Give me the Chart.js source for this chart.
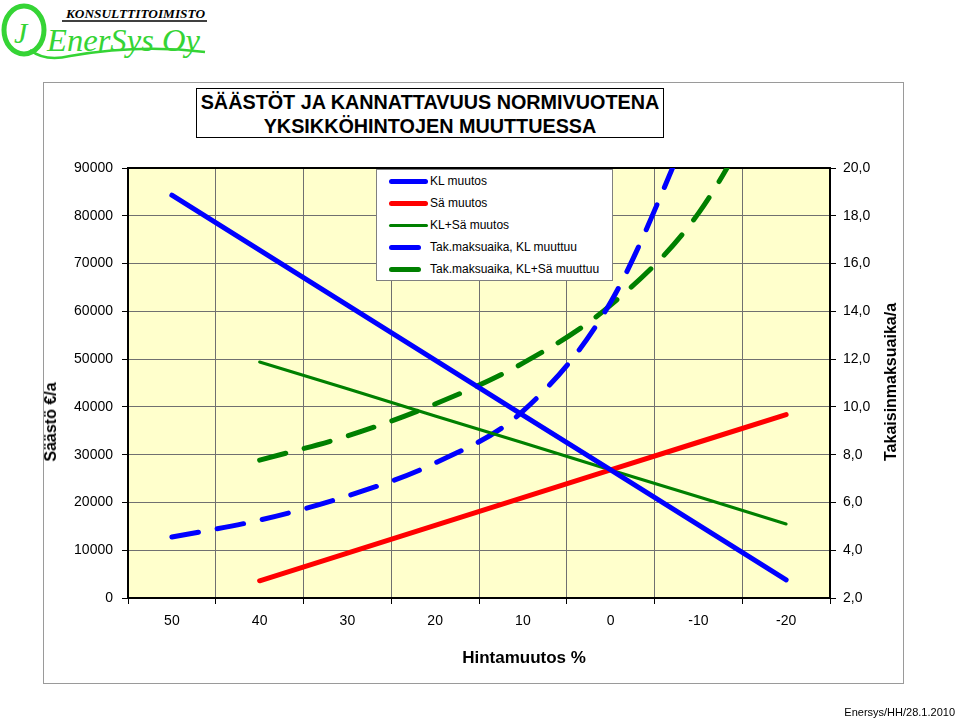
<!DOCTYPE html>
<html>
<head>
<meta charset="utf-8">
<script src="https://cdn.jsdelivr.net/npm/chart.js@4"></script>
<style>
  html,body{margin:0;padding:0;background:#fff;}
  body{width:960px;height:721px;position:relative;overflow:hidden;font-family:"Liberation Sans",Arial,sans-serif;}
  .abs{position:absolute;}
  #frame{left:43px;top:82px;width:859px;height:600px;border:1px solid #9a9a9a;}
  #titlebox{left:196px;top:88px;width:466px;height:47px;border:1.5px solid #000;background:#fff;text-align:center;font-weight:bold;font-size:19.8px;line-height:24px;padding-top:1px;}
  #legend{left:376px;top:169px;width:235px;height:110px;border:1px solid #808080;background:#fff;}
  .lrow{position:absolute;left:0;width:235px;height:22px;}
  .lsample{position:absolute;border-radius:3px;}
  .ltext{position:absolute;left:53px;font-size:12px;line-height:14px;white-space:nowrap;color:#000;}
  .vtitle{font-weight:bold;font-size:16px;white-space:nowrap;transform:translate(-50%,-50%) rotate(-90deg);}
  #xtitle{left:524px;top:658px;font-weight:bold;font-size:17px;white-space:nowrap;transform:translate(-50%,-50%);}
  #footer{right:5px;top:706px;font-size:11px;white-space:nowrap;}
</style>
</head>
<body>
<div id="frame" class="abs"></div>

<!-- logo -->
<svg class="abs" style="left:0;top:0" width="215" height="62">
  <ellipse cx="24" cy="30" rx="20" ry="24" fill="none" stroke="#35d435" stroke-width="5"/>
  <path d="M30 50 Q 45 62 70 56 Q 140 44 205 52" fill="none" stroke="#35d435" stroke-width="2.5"/>
  <text x="14" y="43" font-family="Liberation Serif" font-style="italic" font-size="30" fill="#35d435">J</text>
  <line x1="62" y1="21" x2="207" y2="21" stroke="#000" stroke-width="1.5"/>
  <text x="66" y="18" font-family="Liberation Serif" font-style="italic" font-weight="bold" font-size="13.5" textLength="139" lengthAdjust="spacingAndGlyphs" fill="#000">KONSULTTITOIMISTO</text>
  <text x="47" y="51" font-family="Liberation Serif" font-style="italic" font-size="32" textLength="153" lengthAdjust="spacingAndGlyphs" fill="#35d435">EnerSys Oy</text>
</svg>

<canvas id="c" class="abs" width="960" height="721" style="left:0;top:0"></canvas>

<div id="titlebox" class="abs">SÄÄSTÖT JA KANNATTAVUUS NORMIVUOTENA<br>YKSIKKÖHINTOJEN MUUTTUESSA</div>
<div id="legend" class="abs"></div>
<div class="abs vtitle" style="left:51px;top:422px;">Säästö €/a</div>
<div class="abs vtitle" style="left:891px;top:382px;">Takaisinmaksuaika/a</div>
<div id="xtitle" class="abs">Hintamuutos %</div>
<div id="footer" class="abs">Enersys/HH/28.1.2010</div>

<script>
// ---- data ----
const categories = ["50", "40", "30", "20", "10", "0", "-10", "-20"];
const klMuutos   = [84300, 72800, 61300, 49800, 38300, 26800, 15300, 3800];
const saMuutos   = [null, 3600, 9400, 15200, 21000, 26800, 32600, 38400];
const klSaMuutos = [null, 49400, 43800, 38100, 32500, 26800, 21200, 15500];
const takKL      = [4.55, 5.26, 6.27, 7.65, 9.82, 14.38, 22.5, null];
const takKLSa    = [null, 7.77, 8.78, 10.12, 11.83, 14.26, 18.1, 24.5];
const leftTicks  = [0, 90000, 10000];   // min, max, step
const rightTicks = [2, 20, 2];          // min, max, step

const seriesNames = ["KL muutos", "Sä muutos", "KL+Sä muutos", "Tak.maksuaika, KL muuttuu", "Tak.maksuaika, KL+Sä muuttuu"];

const FONT = "'Liberation Sans', Arial, sans-serif";

const datasets = [
  {label: seriesNames[0], data: klMuutos, yAxisID: 'y', borderColor: '#0000ff', borderWidth: 5, dashed: false},
  {label: seriesNames[1], data: saMuutos, yAxisID: 'y', borderColor: '#ff0000', borderWidth: 5, dashed: false},
  {label: seriesNames[2], data: klSaMuutos, yAxisID: 'y', borderColor: '#008000', borderWidth: 3, dashed: false},
  {label: seriesNames[3], data: takKL, yAxisID: 'y1', borderColor: '#0000ff', borderWidth: 5, dashed: true},
  {label: seriesNames[4], data: takKLSa, yAxisID: 'y1', borderColor: '#008000', borderWidth: 5, dashed: true}
].map(d => Object.assign({
  pointRadius: 0, pointHoverRadius: 0, fill: false, spanGaps: false,
  borderCapStyle: 'round', borderJoinStyle: 'round',
  borderDash: d.dashed ? [27, 19] : [],
  cubicInterpolationMode: d.dashed ? 'monotone' : 'default',
  tension: 0, clip: 0
}, d));

// ---- HTML legend built from datasets ----
const leg = document.getElementById('legend');
datasets.forEach((d, i) => {
  const row = document.createElement('div');
  row.className = 'lrow';
  row.style.top = (i * 22) + 'px';
  const s = document.createElement('div');
  s.className = 'lsample';
  const w = d.dashed ? 32 : 39;
  s.style.left = '12px';
  s.style.width = w + 'px';
  s.style.height = d.borderWidth + 'px';
  s.style.top = (11 - d.borderWidth / 2) + 'px';
  s.style.background = d.borderColor;
  s.style.borderRadius = (d.borderWidth / 2) + 'px';
  const t = document.createElement('div');
  t.className = 'ltext';
  t.style.top = '4px';
  t.textContent = d.label;
  row.appendChild(s); row.appendChild(t);
  leg.appendChild(row);
});

// ---- plugins ----
const plotBg = {
  id: 'plotBg',
  beforeDraw(chart) {
    const {ctx, chartArea: a} = chart;
    ctx.save();
    ctx.fillStyle = '#ffffcc';
    ctx.fillRect(a.left, a.top, a.right - a.left, a.bottom - a.top);
    ctx.restore();
  },
  beforeDatasetsDraw(chart) {
    const {ctx, chartArea: a} = chart;
    ctx.save();
    ctx.strokeStyle = '#000';
    ctx.lineWidth = 2;
    ctx.strokeRect(a.left, a.top, a.right - a.left, a.bottom - a.top);
    ctx.restore();
  }
};

const tickFont = {family: FONT, size: 14};

new Chart(document.getElementById('c'), {
  type: 'line',
  data: {labels: categories, datasets: datasets},
  options: {
    responsive: false,
    animation: false,
    devicePixelRatio: 1,
    layout: {padding: {top: 168, left: 0, right: 0, bottom: 0}},
    plugins: {legend: {display: false}, title: {display: false}, tooltip: {enabled: false}},
    scales: {
      x: {
        type: 'category',
        offset: true,
        grid: {offset: true, color: '#707070', lineWidth: 1, tickLength: 6, tickColor: '#000', drawOnChartArea: true},
        border: {display: true, color: '#000', width: 2},
        ticks: {font: tickFont, color: '#000', padding: 9, maxRotation: 0, autoSkip: false},
        afterFit(s) { s.height = 123; }
      },
      y: {
        position: 'left',
        min: leftTicks[0], max: leftTicks[1],
        ticks: {stepSize: leftTicks[2], font: tickFont, color: '#000', padding: 9,
                callback: v => String(v)},
        grid: {color: '#707070', lineWidth: 1, tickLength: 6, tickColor: '#000'},
        border: {display: true, color: '#000', width: 2},
        afterFit(s) { s.width = 128; }
      },
      y1: {
        position: 'right',
        min: rightTicks[0], max: rightTicks[1],
        ticks: {stepSize: rightTicks[2], font: tickFont, color: '#000', padding: 7,
                callback: v => Number(v).toFixed(1).replace('.', ',')},
        grid: {drawOnChartArea: false, tickLength: 6, tickColor: '#000'},
        border: {display: true, color: '#000', width: 2},
        afterFit(s) { s.width = 130; }
      }
    }
  },
  plugins: [plotBg]
});
</script>
</body>
</html>
